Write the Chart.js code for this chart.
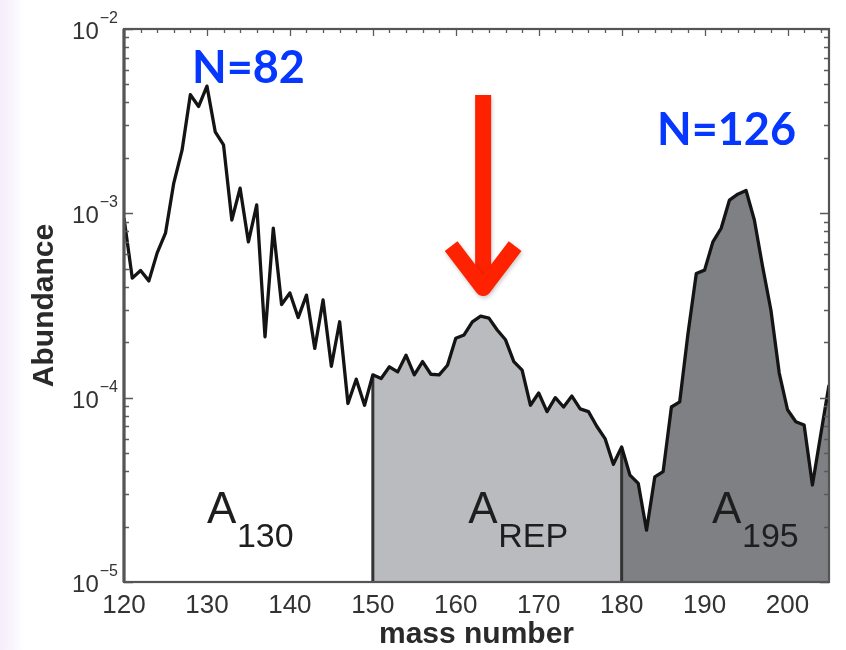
<!DOCTYPE html>
<html>
<head>
<meta charset="utf-8">
<title>Abundance vs mass number</title>
<script src="https://cdn.jsdelivr.net/npm/chart.js@4.4.1/dist/chart.umd.min.js"></script>
<style>
  html, body { margin: 0; padding: 0; }
  body {
    width: 846px; height: 650px; overflow: hidden;
    background: linear-gradient(to right, #f6edfb 0px, #faf5fd 12px, #ffffff 24px);
  }
  canvas { display: block; }
</style>
</head>
<body>
<canvas id="chart" width="846" height="650"></canvas>
<script>
// Mass numbers A = 120 ... 205
const masses = [
  120, 121, 122, 123, 124, 125, 126, 127, 128, 129,
  130, 131, 132, 133, 134, 135, 136, 137, 138, 139,
  140, 141, 142, 143, 144, 145, 146, 147, 148, 149,
  150, 151, 152, 153, 154, 155, 156, 157, 158, 159,
  160, 161, 162, 163, 164, 165, 166, 167, 168, 169,
  170, 171, 172, 173, 174, 175, 176, 177, 178, 179,
  180, 181, 182, 183, 184, 185, 186, 187, 188, 189,
  190, 191, 192, 193, 194, 195, 196, 197, 198, 199,
  200, 201, 202, 203, 204, 205
];

// Solar r-process abundance for each mass number
const abundance = [
  9.4e-4, 4.45e-4, 4.9e-4, 4.3e-4, 6.1e-4, 7.8e-4, 1.46e-3, 2.2e-3, 4.4e-3, 3.8e-3,
  4.9e-3, 2.77e-3, 2.35e-3, 9.2e-4, 1.37e-3, 7.0e-4, 1.11e-3, 2.14e-4, 8.3e-4, 3.2e-4,
  3.7e-4, 2.72e-4, 3.6e-4, 1.85e-4, 3.39e-4, 1.48e-4, 2.58e-4, 9.3e-5, 1.26e-4, 9.1e-5,
  1.33e-4, 1.27e-4, 1.47e-4, 1.38e-4, 1.70e-4, 1.33e-4, 1.57e-4, 1.34e-4, 1.33e-4, 1.5e-4,
  2.1e-4, 2.19e-4, 2.58e-4, 2.77e-4, 2.7e-4, 2.33e-4, 2.06e-4, 1.57e-4, 1.41e-4, 9.1e-5,
  1.06e-4, 8.4e-5, 1.0e-4, 8.9e-5, 1.02e-4, 8.7e-5, 8.4e-5, 7.0e-5, 6.0e-5, 4.35e-5,
  5.4e-5, 3.8e-5, 3.43e-5, 1.91e-5, 3.72e-5, 3.97e-5, 8.9e-5, 9.5e-5, 2.23e-4, 4.72e-4,
  4.92e-4, 7.0e-4, 8.3e-4, 1.18e-3, 1.27e-3, 1.33e-3, 9.2e-4, 5.13e-4, 2.98e-4, 1.36e-4,
  8.6e-5, 7.4e-5, 7.1e-5, 3.36e-5, 6.3e-5, 1.17e-4
];

// Axis ranges and tick labels
const xRange = [120, 205];
const xTickLabels = [120, 130, 140, 150, 160, 170, 180, 190, 200];
const yExponents = [-5, -4, -3, -2];

// Shaded integration regions
const repRange = [150, 180];
const heavyRange = [180, 205];

// Text labels
const regionLabels = [
  { main: 'A', sub: '130', at: 130 },
  { main: 'A', sub: 'REP', at: 161.5 },
  { main: 'A', sub: '195', at: 190.9 }
];
const shellLabels = ['N=82', 'N=126'];
const xTitle = 'mass number';
const yTitle = 'Abundance';
const arrowMass = 163.3;

const yMin = Math.pow(10, yExponents[0]);
const yMax = Math.pow(10, yExponents[yExponents.length - 1]);

const points = masses.map((m, i) => ({ x: m, y: abundance[i] }));
const inRange = (r) => points.filter(p => p.x >= r[0] && p.x <= r[1]);
const valueAt = (m) => abundance[masses.indexOf(m)];
const divider = (m) => [{ x: m, y: yMin }, { x: m, y: valueAt(m) }];

const decorations = {
  id: 'decorations',
  afterDatasetsDraw(chart) {
    const { ctx, chartArea: a, scales: { x, y } } = chart;
    ctx.save();

    // inward tick marks: top edge every 2 units, left/right log minors
    ctx.strokeStyle = '#5a5a5a';
    ctx.lineWidth = 1.3;
    ctx.beginPath();
    for (let m = xRange[0]; m <= xRange[1]; m += 2) {
      const px = Math.round(x.getPixelForValue(m)) + 0.5;
      const len = (m % 10 === 0) ? 7 : 4;
      ctx.moveTo(px, a.top);
      ctx.lineTo(px, a.top + len);
    }
    for (const e of yExponents) {
      for (let k = 1; k <= 9; k++) {
        const v = k * Math.pow(10, e);
        if (v > yMax * 1.0001) break;
        const py = Math.round(y.getPixelForValue(v)) + 0.5;
        const len = (k === 1) ? 9 : 5;
        ctx.moveTo(a.left, py); ctx.lineTo(a.left + len, py);
        ctx.moveTo(a.right, py); ctx.lineTo(a.right - len, py);
      }
    }
    ctx.stroke();

    // axes box
    ctx.strokeStyle = '#555';
    ctx.lineWidth = 2.2;
    ctx.strokeRect(a.left, a.top, a.right - a.left, a.bottom - a.top);
    ctx.lineWidth = 3.2;
    ctx.beginPath();
    ctx.moveTo(a.left, a.top); ctx.lineTo(a.left, a.bottom);
    ctx.stroke();

    // x tick labels
    ctx.fillStyle = '#333';
    ctx.font = '26px "Liberation Sans", Arial, sans-serif';
    ctx.textAlign = 'center';
    ctx.textBaseline = 'alphabetic';
    for (const t of xTickLabels) {
      ctx.fillText(String(t), x.getPixelForValue(t), a.bottom + 31);
    }

    // y tick labels: 10 with superscript exponent
    for (const e of yExponents) {
      const py = y.getPixelForValue(Math.pow(10, e));
      const expText = '\u2212' + Math.abs(e);
      ctx.font = '16px "Liberation Sans", Arial, sans-serif';
      const ew = ctx.measureText(expText).width;
      ctx.textAlign = 'right';
      const expRight = a.left - 6;
      ctx.fillText(expText, expRight, py - 6);
      ctx.font = '24px "Liberation Sans", Arial, sans-serif';
      ctx.fillText('10', expRight - ew - 1, py + 10);
    }

    // axis titles
    ctx.fillStyle = '#2a2a2a';
    ctx.font = 'bold 30px "Liberation Sans", Arial, sans-serif';
    ctx.textAlign = 'center';
    ctx.fillText(xTitle, (a.left + a.right) / 2, a.bottom + 61);
    ctx.save();
    ctx.translate(53, (a.top + a.bottom) / 2);
    ctx.rotate(-Math.PI / 2);
    ctx.fillText(yTitle, 0, 0);
    ctx.restore();

    // region labels A with subscripts
    ctx.fillStyle = '#1e1e1e';
    ctx.textAlign = 'left';
    for (const r of regionLabels) {
      const px = x.getPixelForValue(r.at);
      ctx.font = '44px "Liberation Sans", Arial, sans-serif';
      ctx.fillText(r.main, px, a.bottom - 59);
      ctx.font = '34px "Liberation Sans", Arial, sans-serif';
      ctx.fillText(r.sub, px + 30, a.bottom - 35);
    }

    // closed neutron shell labels
    ctx.fillStyle = '#0637ff';
    ctx.font = 'bold 45px Lato, "Liberation Sans", sans-serif';
    ctx.textAlign = 'left';
    ctx.fillText(shellLabels[0], 192, 83);
    ctx.fillText(shellLabels[1], 657, 145);

    // arrow pointing at the rare-earth peak
    const ax = x.getPixelForValue(arrowMass);
    const tipY = y.getPixelForValue(valueAt(163)) - 28;
    ctx.strokeStyle = '#ff2200';
    ctx.lineWidth = 16;
    ctx.lineCap = 'butt';
    ctx.lineJoin = 'round';
    ctx.shadowColor = 'rgba(0,0,0,0.22)';
    ctx.shadowBlur = 4;
    ctx.shadowOffsetX = 1;
    ctx.shadowOffsetY = 2;
    ctx.beginPath();
    ctx.moveTo(ax, 95);
    ctx.lineTo(ax, tipY);
    ctx.stroke();
    ctx.beginPath();
    ctx.moveTo(ax - 32, tipY - 42);
    ctx.lineTo(ax, tipY);
    ctx.lineTo(ax + 32, tipY - 42);
    ctx.stroke();

    ctx.restore();
  }
};

new Chart(document.getElementById('chart'), {
  type: 'line',
  data: {
    datasets: [
      {
        label: 'abundance',
        data: points,
        borderColor: '#141414',
        borderWidth: 3.3,
        borderJoinStyle: 'round',
        pointRadius: 0,
        fill: false,
        tension: 0
      },
      {
        label: 'edge 150',
        data: divider(repRange[0]),
        borderColor: '#333',
        borderWidth: 3,
        pointRadius: 0,
        fill: false
      },
      {
        label: 'edge 180',
        data: divider(heavyRange[0]),
        borderColor: '#333',
        borderWidth: 3,
        pointRadius: 0,
        fill: false
      },
      {
        label: 'A_REP',
        data: inRange(repRange),
        borderColor: 'rgba(0,0,0,0)',
        borderWidth: 0,
        backgroundColor: '#b9bbbf',
        pointRadius: 0,
        fill: 'start'
      },
      {
        label: 'A_195',
        data: inRange(heavyRange),
        borderColor: 'rgba(0,0,0,0)',
        borderWidth: 0,
        backgroundColor: '#7f8084',
        pointRadius: 0,
        fill: 'start'
      }
    ]
  },
  options: {
    responsive: false,
    animation: false,
    devicePixelRatio: 1,
    layout: { padding: { left: 124, top: 29, right: 17, bottom: 68 } },
    plugins: { legend: { display: false }, tooltip: { enabled: false } },
    scales: {
      x: { type: 'linear', min: xRange[0], max: xRange[1], display: false },
      y: { type: 'logarithmic', min: yMin, max: yMax, display: false }
    }
  },
  plugins: [decorations]
});
</script>
</body>
</html>
